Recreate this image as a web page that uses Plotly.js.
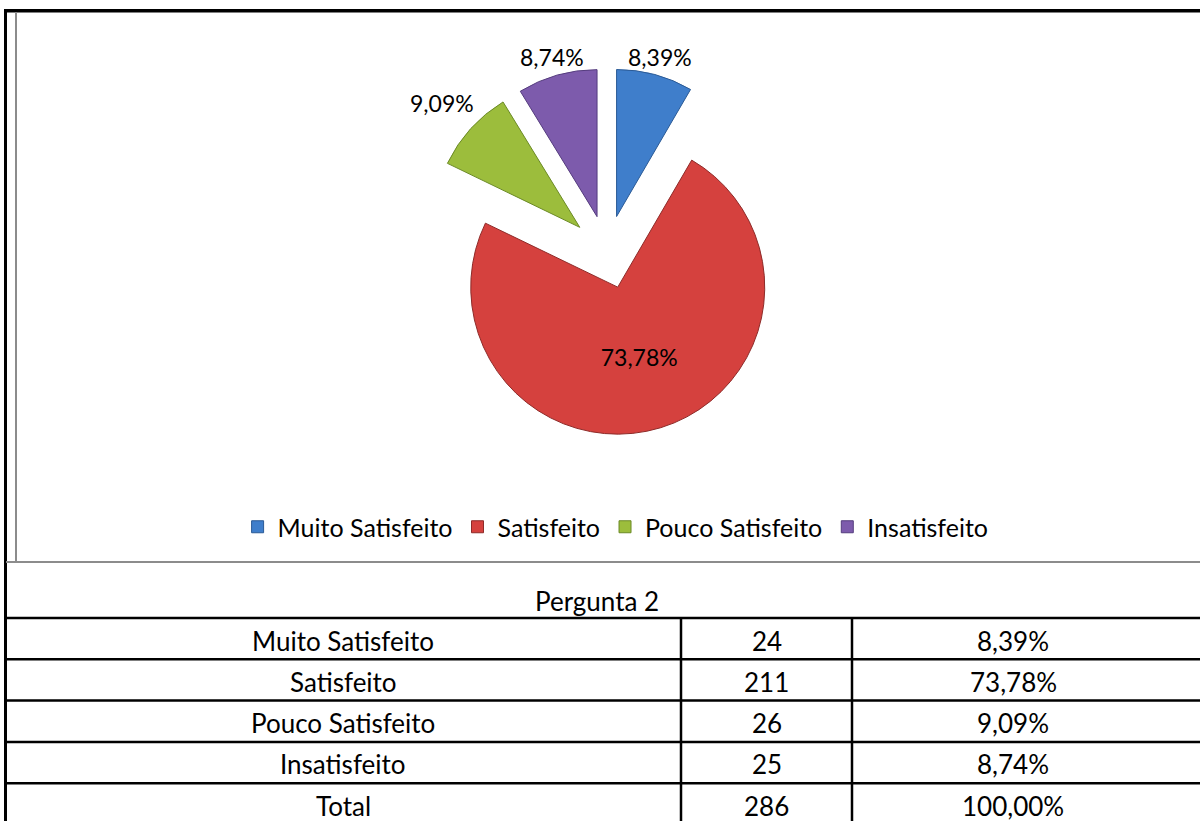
<!DOCTYPE html>
<html>
<head>
<meta charset="utf-8">
<script src="https://cdn.plot.ly/plotly-3.0.1.min.js"></script>
<style>
  html, body { margin: 0; padding: 0; background: #ffffff; }
  #chart { width: 1200px; height: 821px; }
</style>
</head>
<body>
<div id="chart"></div>
<script>
// ---- data ----
const categories = ['Muito Satisfeito', 'Satisfeito', 'Pouco Satisfeito', 'Insatisfeito'];
const counts = [24, 211, 26, 25];
const percentLabels = ['8,39%', '73,78%', '9,09%', '8,74%'];
const tableTitle = 'Pergunta 2';
const totalLabel = 'Total';
const totalCount = 286;
const totalPercent = '100,00%';

// ---- styles ----
const sliceColors = ['#3F7ECB', '#D5413E', '#9CBD3C', '#7D5BAC'];
const sliceEdges = ['#2A5A96', '#8E2B29', '#6B8A26', '#553C7E'];
const FONT = 'Lato, "Open Sans", sans-serif';

const W = 1200, H = 821;
const px = p => p / W;
const py = p => 1 - p / H;

// pie geometry (pixel frame)
const pieCX = 607, pieCY = 252, pieR = 147, pullFrac = 0.25;
const half = pieR * (1 + pullFrac);
// the large slice keeps its label inside; small ones get an outside label
const insideSlice = [false, true, false, false];

const pie = {
  type: 'pie',
  values: counts,
  labels: categories,
  sort: false,
  direction: 'clockwise',
  rotation: 0,
  pull: categories.map(() => pullFrac),
  marker: { colors: sliceColors, line: { color: sliceEdges, width: 1 } },
  texttemplate: insideSlice.map(v => v ? '%{percent:.2%}' : ''),
  textposition: 'inside',
  textfont: { family: FONT, size: 23, color: '#000000' },
  insidetextfont: { family: FONT, size: 23, color: '#000000' },
  insidetextorientation: 'horizontal',
  automargin: false,
  hoverinfo: 'label+value+percent',
  domain: {
    x: [px(pieCX - half), px(pieCX + half)],
    y: [py(pieCY + half), py(pieCY - half)]
  }
};

// ---- table / frame lines ----
const shapes = [];
function hline(y, x0, x1, color, w) {
  shapes.push({ type: 'line', xref: 'paper', yref: 'paper', x0: px(x0), x1: px(x1), y0: py(y), y1: py(y),
    line: { color: color, width: w } });
}
function vline(x, y0, y1, color, w) {
  shapes.push({ type: 'line', xref: 'paper', yref: 'paper', x0: px(x), x1: px(x), y0: py(y0), y1: py(y1),
    line: { color: color, width: w } });
}
// outer frame
hline(10.8, 4, 1200, '#000000', 3.5);
vline(5.5, 9, 821, '#000000', 3);
// chart box (grey)
vline(16, 12, 562, '#8C8C8C', 2);
hline(562, 6, 1200, '#8C8C8C', 2);

// table grid
const rowTops = [618, 659.3, 700.6, 741.9, 783.2];
rowTops.forEach(y => hline(y, 5, 1200, '#000000', 2.5));
const colX = [681, 852];
colX.forEach(x => vline(x, 618, 821, '#000000', 2.5));

const annotations = [];

// outside labels for the small slices, placed along each slice's mid angle
const total = counts.reduce((a, b) => a + b, 0);
let cum = 0;
counts.forEach((v, i) => {
  const mid = (cum + v / 2) / total * 2 * Math.PI;
  cum += v;
  if (insideSlice[i]) return;
  const dx = Math.sin(mid), dy = -Math.cos(mid);
  const pcx = pieCX + pullFrac * pieR * dx;
  const pcy = pieCY + pullFrac * pieR * dy;
  const dist = pieR + 7 + 43 * Math.abs(dx);
  annotations.push({ xref: 'paper', yref: 'paper', x: px(pcx + dist * dx), y: py(pcy + dist * dy),
    text: percentLabels[i], showarrow: false, xanchor: 'center', yanchor: 'middle',
    font: { family: FONT, size: 23, color: '#000000' } });
});

// table text
const colCenters = [343, 766.5, 1013];
function cell(text, x, y) {
  annotations.push({ xref: 'paper', yref: 'paper', x: px(x), y: py(y), text: String(text),
    showarrow: false, xanchor: 'center', yanchor: 'middle',
    font: { family: FONT, size: 26, color: '#000000' } });
}
cell(tableTitle, 597, 601);
const rowsCol1 = categories.concat([totalLabel]);
const rowsCol2 = counts.concat([totalCount]);
const rowsCol3 = percentLabels.concat([totalPercent]);
rowTops.forEach((top, i) => {
  const yc = top + 22.5;
  cell(rowsCol1[i], colCenters[0], yc);
  cell(rowsCol2[i], colCenters[1], yc);
  cell(rowsCol3[i], colCenters[2], yc);
});

const layout = {
  width: W, height: H,
  margin: { l: 0, r: 0, t: 0, b: 0 },
  paper_bgcolor: '#ffffff',
  plot_bgcolor: '#ffffff',
  separators: ',.',
  showlegend: true,
  legend: {
    orientation: 'h',
    x: 0.513, xanchor: 'center',
    y: py(527), yanchor: 'middle',
    font: { family: FONT, size: 25, color: '#000000' },
    bgcolor: 'rgba(0,0,0,0)'
  },
  shapes: shapes,
  annotations: annotations
};

Plotly.newPlot('chart', [pie], layout, { displayModeBar: false, staticPlot: true });
</script>
</body>
</html>
